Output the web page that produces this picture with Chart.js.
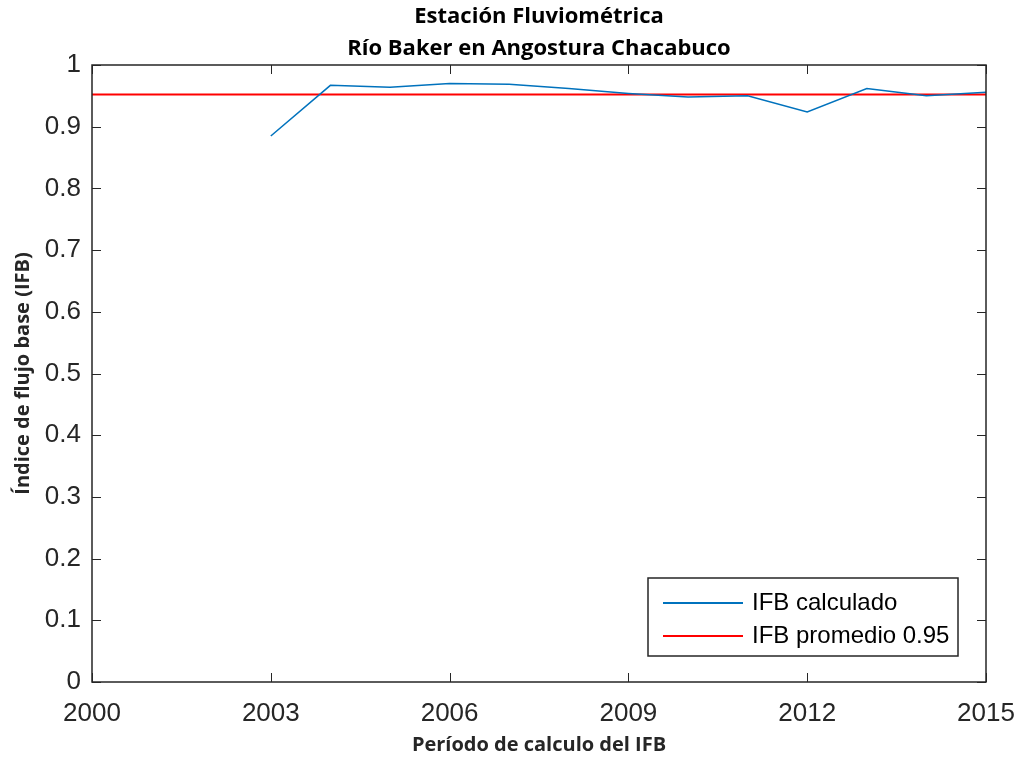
<!DOCTYPE html>
<html>
<head>
<meta charset="utf-8">
<title>IFB Río Baker</title>
<script src="https://cdn.jsdelivr.net/npm/chart.js@4/dist/chart.umd.min.js"></script>
<style>
    body { margin: 0; background: #fff; }
    #wrap { width: 1021px; height: 757px; }
</style>
</head>
<body>
<div id="wrap"><canvas id="chart" width="1021" height="757"></canvas></div>
<script>
// Data
const years = [2003, 2004, 2005, 2006, 2007, 2008, 2009, 2010, 2011, 2012, 2013, 2014, 2015];
const ifbValues = [0.885, 0.967, 0.964, 0.970, 0.969, 0.962, 0.954, 0.948, 0.950, 0.924, 0.962, 0.950, 0.956];
const ifbMean = 0.952;
const xRange = [2000, 2015];
const titleLines = ['Estación Fluviométrica', 'Río Baker en Angostura Chacabuco'];
const seriesLabels = ['IFB calculado', 'IFB promedio 0.95'];

const axisColor = '#262626';
const tickFont = { family: '"Liberation Sans", Arial, sans-serif', size: 26 };
const labelFont = { family: '"Open Sans", sans-serif', size: 20, weight: 'bold' };

// MATLAB-like box with inward ticks on all four sides, plus legend inside the axes
const matlabBox = {
    id: 'matlabBox',
    afterDraw(chart) {
        const ctx = chart.ctx;
        const a = chart.chartArea;
        const xs = chart.scales.x;
        const ys = chart.scales.y;
        const tl = 9;

        ctx.save();
        ctx.strokeStyle = axisColor;
        ctx.lineWidth = 1.5;
        ctx.strokeRect(a.left, a.top, a.right - a.left, a.bottom - a.top);

        ctx.beginPath();
        xs.ticks.forEach(t => {
            const px = Math.round(xs.getPixelForValue(t.value)) + 0.5;
            ctx.moveTo(px, a.bottom); ctx.lineTo(px, a.bottom - tl);
            ctx.moveTo(px, a.top); ctx.lineTo(px, a.top + tl);
        });
        ys.ticks.forEach(t => {
            const py = Math.round(ys.getPixelForValue(t.value)) + 0.5;
            ctx.moveTo(a.left, py); ctx.lineTo(a.left + tl, py);
            ctx.moveTo(a.right, py); ctx.lineTo(a.right - tl, py);
        });
        ctx.lineWidth = 1;
        ctx.stroke();

        // legend
        const lx = 648, ly = 578, lw = 310, lh = 78;
        ctx.fillStyle = '#fff';
        ctx.fillRect(lx, ly, lw, lh);
        ctx.lineWidth = 1.5;
        ctx.strokeStyle = axisColor;
        ctx.strokeRect(lx, ly, lw, lh);
        ctx.font = '24px "Liberation Sans", Arial, sans-serif';
        ctx.textBaseline = 'middle';
        chart.data.datasets.forEach((ds, i) => {
            const yy = ly + 25 + i * 33;
            ctx.strokeStyle = ds.borderColor;
            ctx.lineWidth = 2;
            ctx.beginPath();
            ctx.moveTo(lx + 15, yy);
            ctx.lineTo(lx + 95, yy);
            ctx.stroke();
            ctx.fillStyle = '#000';
            ctx.fillText(ds.label, lx + 104, yy);
        });
        ctx.restore();
    }
};

new Chart(document.getElementById('chart'), {
    type: 'line',
    data: {
        datasets: [
            {
                label: seriesLabels[0],
                data: years.map((y, i) => ({ x: y, y: ifbValues[i] })),
                borderColor: '#0072BD',
                borderWidth: 1.5,
                pointRadius: 0,
                tension: 0
            },
            {
                label: seriesLabels[1],
                data: xRange.map(x => ({ x: x, y: ifbMean })),
                borderColor: '#FF0000',
                borderWidth: 2,
                pointRadius: 0,
                tension: 0
            }
        ]
    },
    options: {
        responsive: false,
        animation: false,
        layout: { padding: { left: 0, right: 35, top: 0, bottom: 0 } },
        plugins: {
            legend: { display: false },
            tooltip: { enabled: false },
            title: {
                display: true,
                fullSize: false,
                text: titleLines,
                color: '#000',
                font: { family: '"Open Sans", sans-serif', size: 22, weight: 'bold', lineHeight: 32 / 22 },
                padding: { top: 1, bottom: 0 }
            }
        },
        scales: {
            x: {
                type: 'linear',
                min: xRange[0],
                max: xRange[1],
                grid: { display: false },
                border: { display: false },
                ticks: {
                    stepSize: 3,
                    padding: 8,
                    color: axisColor,
                    maxRotation: 0,
                    font: tickFont,
                    callback: v => String(v)
                },
                title: {
                    display: true,
                    text: 'Período de calculo del IFB',
                    color: axisColor,
                    font: labelFont,
                    padding: { top: 0, bottom: 0 }
                },
                afterFit: s => {
                    s.height = 75;
                    s.paddingLeft = 0;
                    s.paddingRight = 0;
                }
            },
            y: {
                min: 0,
                max: 1,
                grid: { display: false },
                border: { display: false },
                ticks: {
                    stepSize: 0.1,
                    padding: 3,
                    color: axisColor,
                    font: tickFont,
                    callback: v => (v === 0 || v === 1) ? String(v) : v.toFixed(1)
                },
                title: {
                    display: true,
                    text: 'Índice de flujo base (IFB)',
                    color: axisColor,
                    font: labelFont,
                    padding: { top: 11, bottom: 0 }
                },
                afterFit: s => {
                    s.width = 92;
                    s.paddingTop = 0;
                    s.paddingBottom = 0;
                }
            }
        }
    },
    plugins: [matlabBox]
});
</script>
</body>
</html>
